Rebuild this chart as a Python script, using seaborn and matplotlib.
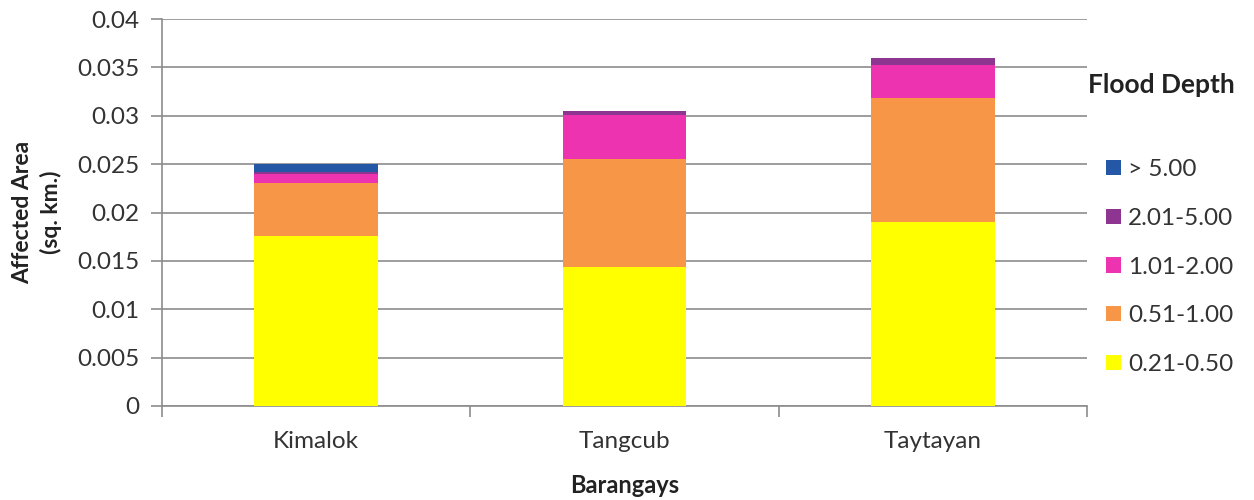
import numpy as np
import pandas as pd
import seaborn as sns
import matplotlib.pyplot as plt
from matplotlib.patches import Patch

# values (sq. km.)
barangays = ['Kimalok', 'Tangcub', 'Taytayan']
depth_classes = ['0.21-0.50', '0.51-1.00', '1.01-2.00', '2.01-5.00', '> 5.00']
area_021_050 = [0.0176, 0.0144, 0.0190]
area_051_100 = [0.0054, 0.0111, 0.0128]
area_101_200 = [0.0010, 0.0046, 0.0034]
area_201_500 = [0.0002, 0.0004, 0.0008]
area_gt_500 = [0.0008, 0.0000, 0.0000]
class_colors = ['#ffff00', '#f79646', '#ee33b0', '#8e3592', '#2457a6']

layers = [area_021_050, area_051_100, area_101_200, area_201_500, area_gt_500]

sns.set_theme(style='white')
plt.rcParams['font.family'] = ['Lato', 'DejaVu Sans']

fig, ax = plt.subplots(figsize=(12.54, 5.0), dpi=100)
fig.subplots_adjust(left=0.129, right=0.867, top=0.962, bottom=0.188)

bottom = np.zeros(len(barangays))
for name, vals, col in zip(depth_classes, layers, class_colors):
    df = pd.DataFrame({'barangay': barangays, 'area': vals})
    sns.barplot(data=df, x='barangay', y='area', color=col, width=0.4,
                bottom=bottom, ax=ax, saturation=1, linewidth=0, zorder=3)
    bottom = bottom + np.array(vals)

grid_c = '#8c8c8c'
txt_c = '#333333'
ax.set_ylim(0, 0.04)
ax.set_yticks(np.arange(0, 0.0401, 0.005))
ax.set_yticklabels(['0', '0.005', '0.01', '0.015', '0.02', '0.025', '0.03', '0.035', '0.04'])
ax.yaxis.grid(True, color=grid_c, linewidth=1.2, zorder=0)
ax.set_axisbelow(True)
ax.set_xlim(-0.5, 2.5)
ax.set_xticks([-0.5, 0.5, 1.5, 2.5], minor=True)
ax.tick_params(axis='x', which='major', length=0, pad=18, labelsize=17.5, colors=txt_c)
ax.tick_params(axis='x', which='minor', length=8, color=grid_c, width=1.2, direction='out', bottom=True)
ax.tick_params(axis='y', length=8, color=grid_c, width=1.2, direction='out', left=True,
               labelsize=17.5, colors=txt_c, pad=8)

for s in ['top', 'right']:
    ax.spines[s].set_visible(False)
for s in ['left', 'bottom']:
    ax.spines[s].set_color(grid_c)
    ax.spines[s].set_linewidth(1.2)

ax.set_xlabel('Barangays', fontsize=17, fontweight='bold', color='#222222', labelpad=15.5)
ax.set_ylabel('Affected Area\n(sq. km.)', fontsize=16.5, fontweight='bold', color='#222222',
              linespacing=1.35)
ax.yaxis.set_label_coords(-0.108, 0.5)

# legend: title as separate text, entries below with a gap like the original
fig.text(1088 / 1254, 1 - 85 / 500, 'Flood Depth', fontsize=19, fontweight='bold',
         color='#222222', ha='left', va='center')
handles = [Patch(facecolor=c, edgecolor='none') for c in class_colors][::-1]
leg = ax.legend(handles, depth_classes[::-1], frameon=False,
                loc='upper left', bbox_to_anchor=(1094 / 1254, 0.706), bbox_transform=fig.transFigure,
                fontsize=17.5, handlelength=0.6, handleheight=0.6,
                handletextpad=0.3, labelspacing=1.14, borderpad=0)
for t in leg.get_texts():
    t.set_color(txt_c)

fig.savefig('out.png', dpi=100)
